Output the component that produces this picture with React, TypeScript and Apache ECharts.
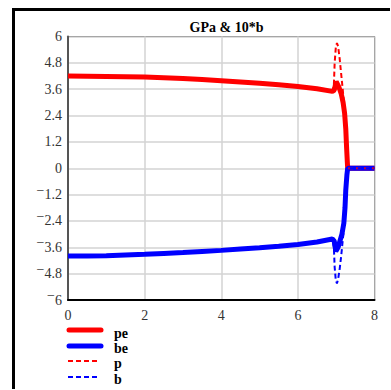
import React, { useEffect, useRef } from "react";
import * as echarts from "echarts";

// Curve samples: x positions and values for each series
const peX = [0, 0.5, 1, 1.5, 2, 2.5, 3, 3.5, 4, 4.5, 5, 5.5, 6, 6.5, 6.9, 6.95, 7.0, 7.07, 7.13, 7.18, 7.22, 7.25, 7.27, 7.29, 7.3, 8];
const peY = [4.2, 4.19, 4.18, 4.17, 4.15, 4.12, 4.09, 4.04, 3.99, 3.93, 3.87, 3.8, 3.72, 3.62, 3.5, 3.56, 3.95, 3.7, 3.4, 3.0, 2.5, 1.8, 1.0, 0.3, 0, 0];

const beX = [0, 0.5, 1, 1.5, 2, 2.5, 3, 3.5, 4, 4.5, 5, 5.5, 6, 6.5, 6.9, 6.95, 6.99, 7.05, 7.1, 7.15, 7.2, 7.23, 7.25, 7.28, 7.3, 8];
const beY = [-4.0, -4.0, -3.98, -3.95, -3.92, -3.88, -3.84, -3.79, -3.74, -3.68, -3.62, -3.55, -3.47, -3.36, -3.22, -3.32, -3.78, -3.6, -3.3, -3.0, -2.5, -1.8, -1.0, -0.3, 0, 0];

const pX = [0, 0.5, 1, 1.5, 2, 2.5, 3, 3.5, 4, 4.5, 5, 5.5, 6, 6.5, 6.9, 6.94, 6.96, 6.99, 7.02, 7.05, 7.09, 7.13, 7.17, 7.2, 7.23, 7.25, 7.27, 7.29, 7.3, 8];
const pY = [4.2, 4.19, 4.18, 4.17, 4.15, 4.12, 4.09, 4.04, 3.99, 3.93, 3.87, 3.8, 3.72, 3.62, 3.5, 3.8, 4.8, 5.5, 5.7, 5.55, 5.0, 4.3, 3.6, 3.0, 2.5, 1.8, 1.0, 0.3, 0, 0];

const bX = [0, 0.5, 1, 1.5, 2, 2.5, 3, 3.5, 4, 4.5, 5, 5.5, 6, 6.5, 6.9, 6.94, 6.96, 6.99, 7.02, 7.05, 7.09, 7.13, 7.17, 7.2, 7.23, 7.25, 7.28, 7.3, 8];
const bY = [-4.0, -4.0, -3.98, -3.95, -3.92, -3.88, -3.84, -3.79, -3.74, -3.68, -3.62, -3.55, -3.47, -3.36, -3.22, -3.6, -4.5, -5.1, -5.25, -5.05, -4.6, -4.0, -3.3, -2.8, -1.8, -1.0, -0.3, 0, 0];

const seriesNames = ["pe", "be", "p", "b"];
const titleText = "GPa & 10*b";

const pairs = (xs: number[], ys: number[]) => xs.map((x, i) => [x, ys[i]]);

const SERIF = "Liberation Serif";

export default function App() {
  const ref = useRef<HTMLDivElement>(null);

  useEffect(() => {
    if (!ref.current) return;
    const chart = echarts.init(ref.current, undefined, { renderer: "svg" });

    const legendRows = [
      { name: seriesNames[0], color: "#ff0000", dashed: false, y: 330, ty: 333 },
      { name: seriesNames[1], color: "#0000ff", dashed: false, y: 346, ty: 348 },
      { name: seriesNames[2], color: "#ff0000", dashed: true, y: 361, ty: 363 },
      { name: seriesNames[3], color: "#0000ff", dashed: true, y: 377, ty: 379 },
    ];

    const graphics: any[] = [
      // outer frame (top and left edges)
      { type: "line", shape: { x1: 12, y1: 9.5, x2: 390, y2: 9.5 }, style: { stroke: "#000", lineWidth: 3 } },
      { type: "line", shape: { x1: 13.5, y1: 8, x2: 13.5, y2: 389 }, style: { stroke: "#000", lineWidth: 3 } },
    ];
    legendRows.forEach((r) => {
      graphics.push({
        type: "line",
        shape: { x1: r.dashed ? 68 : 69, y1: r.y, x2: r.dashed ? 100 : 101, y2: r.y },
        style: {
          stroke: r.color,
          lineWidth: r.dashed ? 2 : 5,
          lineCap: r.dashed ? "butt" : "round",
          lineDash: r.dashed ? [5, 3] : null,
        },
      });
      graphics.push({
        type: "text",
        x: 114,
        y: r.ty,
        style: {
          text: r.name,
          fill: "#000",
          fontFamily: SERIF,
          fontWeight: "bold",
          fontSize: 14,
          verticalAlign: "middle",
          align: "left",
        },
      });
    });

    // negative tick values carry a raised minus sign
    const yFmt = (v: number) => {
      const r = Math.round(v * 10) / 10;
      const s = String(Math.abs(r));
      return r < 0 ? "{m|\u2212}{n|" + s + "}" : "{n|" + s + "}";
    };

    chart.setOption({
      animation: false,
      backgroundColor: "#fff",
      title: {
        text: titleText,
        left: 221.5,
        textAlign: "center",
        top: 15,
        textStyle: { fontFamily: SERIF, fontWeight: "bold", fontSize: 14, color: "#000" },
      },
      grid: {
        left: 68,
        top: 36.5,
        width: 306.5,
        height: 263.5,
        show: true,
        borderColor: "#222",
        borderWidth: 1,
        backgroundColor: "transparent",
      },
      xAxis: {
        type: "value",
        min: 0,
        max: 8,
        interval: 2,
        axisLine: { show: true, onZero: false, lineStyle: { color: "#000", width: 2 } },
        axisTick: { show: false },
        splitLine: { show: true, lineStyle: { color: "#d3d3d3", width: 1.5 } },
        axisLabel: { fontFamily: SERIF, fontSize: 14, color: "#333", margin: 8 },
      },
      yAxis: {
        type: "value",
        min: -6,
        max: 6,
        interval: 1.2,
        axisLine: { show: true, onZero: false, lineStyle: { color: "#555", width: 2 } },
        axisTick: { show: false },
        splitLine: { show: true, lineStyle: { color: "#d3d3d3", width: 1.5 } },
        axisLabel: {
          fontFamily: SERIF,
          fontSize: 14,
          color: "#333",
          margin: 6,
          formatter: yFmt,
          rich: {
            m: { fontFamily: SERIF, fontSize: 14, color: "#333", padding: [0, 0, 9, 0] },
            n: { fontFamily: SERIF, fontSize: 14, color: "#333" },
          },
        },
      },
      graphic: graphics,
      series: [
        {
          name: seriesNames[0],
          type: "line",
          data: pairs(peX, peY),
          showSymbol: false,
          lineStyle: { color: "#ff0000", width: 5 },
          itemStyle: { color: "#ff0000" },
          z: 2,
        },
        {
          name: seriesNames[1],
          type: "line",
          data: pairs(beX, beY),
          showSymbol: false,
          lineStyle: { color: "#0000ff", width: 5 },
          itemStyle: { color: "#0000ff" },
          z: 3,
        },
        {
          name: seriesNames[2],
          type: "line",
          data: pairs(pX, pY),
          showSymbol: false,
          lineStyle: { color: "#ff0000", width: 2, type: [5, 3] },
          itemStyle: { color: "#ff0000" },
          z: 4,
        },
        {
          name: seriesNames[3],
          type: "line",
          data: pairs(bX, bY),
          showSymbol: false,
          lineStyle: { color: "#0000ff", width: 2, type: [5, 3], dashOffset: 4 },
          itemStyle: { color: "#0000ff" },
          z: 5,
        },
      ],
    });

    return () => chart.dispose();
  }, []);

  return (
    <div
      ref={ref}
      style={{ position: "fixed", left: 0, top: 0, width: 391, height: 390, background: "#fff" }}
    />
  );
}
